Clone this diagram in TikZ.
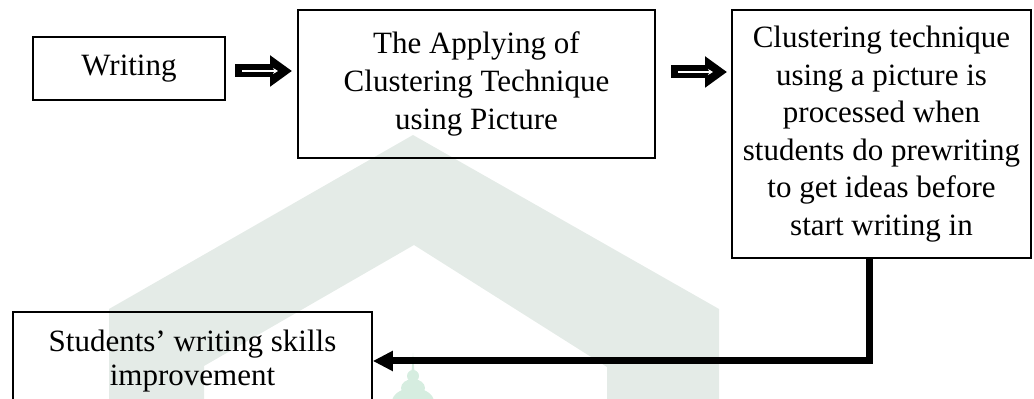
\documentclass[tikz,border=0pt]{standalone}
\usepackage{fontspec}
\setmainfont{Liberation Serif}
\usetikzlibrary{arrows.meta,calc}
\definecolor{wm}{HTML}{E4EBE7}
\definecolor{wmg}{HTML}{D6EDE0}
\begin{document}
\begin{tikzpicture}[x=0.5pt,y=-0.5pt,
  box/.style={draw=black, line width=0.8pt, align=center,
    font=\fontsize{15.5pt}{18.8pt}\selectfont, inner sep=0pt},
  fat/.style={line width=6.5pt, -{Triangle[length=11pt,width=15pt]}},
  innerline/.style={white, line width=0.7pt, -{Stealth[length=2.5pt,width=3pt]}},
  conn/.style={line width=3.5pt, line join=miter, -{Triangle[length=10pt,width=9.5pt]}}]
\useasboundingbox (0,0) rectangle (1034,399);
% watermark
\fill[wm] (109,399) -- (109,309) -- (413,135) -- (719,309) -- (719,399)
  -- (607,399) -- (607,367) -- (414,245) -- (204,366) -- (204,399) -- cycle;
\fill[wmg] (411.5,372) -- (413,353) -- (414.5,372) -- cycle;
\fill[wmg] (413,376) ellipse (6 and 6);
\fill[wmg] (413,388) ellipse (12 and 9);
\fill[wmg] (413,402) ellipse (21 and 14);
% boxes
\node[box, minimum width=96pt, minimum height=31.5pt] (b1) at (129,68.5) {Writing};
\node[box, minimum width=178.5pt, minimum height=74pt] (b2) at (476.5,84)
  {The Applying of\\Clustering Technique\\using Picture};
\node[box, minimum width=149.5pt, minimum height=124pt] (b3) at (881.5,134)
  {Clustering technique\\using a picture is\\processed when\\students do prewriting\\to get ideas before\\start writing in};
\node[box, font=\fontsize{15.5pt}{17pt}\selectfont, minimum width=179.5pt, minimum height=49pt] (b4) at (192.5,361)
  {Students’ writing skills\\improvement};
% fat arrows
\coordinate (a1s) at (235,71);
\coordinate (a1e) at (292,71);
\coordinate (a2s) at (671,72);
\coordinate (a2e) at (727,72);
\draw[fat] (a1s) -- (a1e);
\draw[innerline] ($(a1s)+(7,0)$) -- ($(a1e)+(-14,0)$);
\draw[fat] (a2s) -- (a2e);
\draw[innerline] ($(a2s)+(7,0)$) -- ($(a2e)+(-14,0)$);
% connector
\draw[conn] ($(b3.south)+(-12,0)$) |- (b4.east);
\end{tikzpicture}
\end{document}
